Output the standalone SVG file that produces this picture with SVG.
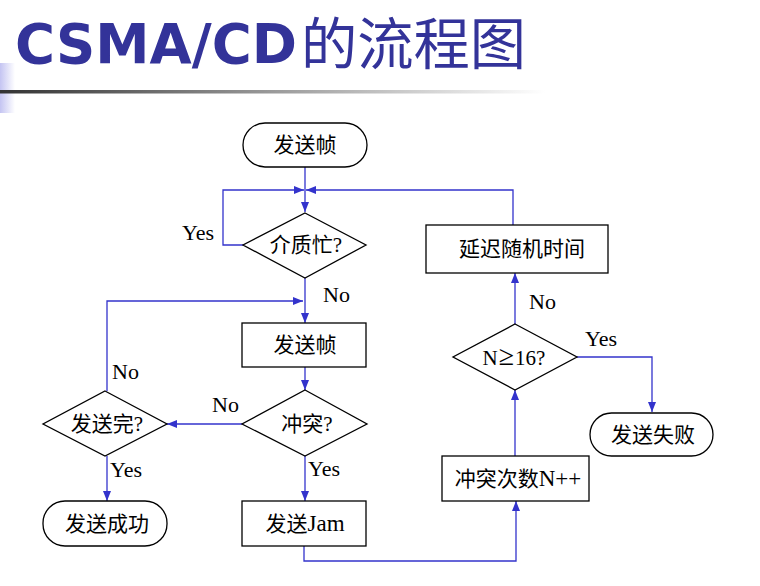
<svg xmlns="http://www.w3.org/2000/svg" width="760" height="586" viewBox="0 0 760 586">
<defs>
<linearGradient id="hl" x1="0" y1="0" x2="1" y2="0">
<stop offset="0" stop-color="#333333"/>
<stop offset="0.5" stop-color="#9a9a9a"/>
<stop offset="1" stop-color="#ffffff"/>
</linearGradient>
<linearGradient id="vb" x1="0" y1="0" x2="1" y2="0">
<stop offset="0" stop-color="#c4c4f2"/>
<stop offset="1" stop-color="#ffffff"/>
</linearGradient>
<marker id="ah" viewBox="0 0 10 8" markerWidth="10" markerHeight="8" markerUnits="userSpaceOnUse" refX="10" refY="4" orient="auto">
<path d="M0,0 L10,4 L0,8 z" fill="#3333cc"/>
</marker>
<style>
.n{fill:#fff;stroke:#000;stroke-width:1.3}
.t{font-family:"Liberation Serif","Noto Sans CJK SC",serif;font-size:21px;fill:#000;text-anchor:middle}
.l{font-family:"Liberation Serif","Noto Sans CJK SC",serif;font-size:22px;fill:#000}
.c{fill:none;stroke:#3333cc;stroke-width:1.3}
.big{font-size:23px}
</style>
</defs>
<rect width="760" height="586" fill="#fff"/>
<g id="title">
<rect x="0" y="63" width="15" height="50" fill="url(#vb)"/>
<rect x="0" y="90" width="545" height="3.5" fill="url(#hl)"/>
<text x="15" y="63" font-family="'DejaVu Sans',Verdana,sans-serif" font-weight="bold" font-size="56" fill="#333399" textLength="282" lengthAdjust="spacingAndGlyphs">CSMA/CD</text>
<text x="301" y="64" font-family="'Noto Sans CJK SC',sans-serif" font-size="56" fill="#333399" textLength="225" lengthAdjust="spacingAndGlyphs">的流程图</text>
</g>
<g id="connectors">
<path class="c" d="M305,167 V212" marker-end="url(#ah)"/>
<path class="c" d="M243,245 H223 V190 H304" marker-end="url(#ah)"/>
<path class="c" d="M513,225 V190 H306" marker-end="url(#ah)"/>
<path class="c" d="M305,278 V323" marker-end="url(#ah)"/>
<path class="c" d="M107,391 V301 H303" marker-end="url(#ah)"/>
<path class="c" d="M305,367 V390" marker-end="url(#ah)"/>
<path class="c" d="M242,424 H167" marker-end="url(#ah)"/>
<path class="c" d="M107,456 V501" marker-end="url(#ah)"/>
<path class="c" d="M305,456 V501" marker-end="url(#ah)"/>
<path class="c" d="M304,546 V561 H516 V501" marker-end="url(#ah)"/>
<path class="c" d="M515,456 V390" marker-end="url(#ah)"/>
<path class="c" d="M515,324 V273" marker-end="url(#ah)"/>
<path class="c" d="M577,357 H652 V412" marker-end="url(#ah)"/>
</g>
<g id="labels">
<text class="l" x="182" y="240">Yes</text>
<text class="l" x="323" y="302">No</text>
<text class="l" x="112" y="379">No</text>
<text class="l" x="212" y="412">No</text>
<text class="l" x="110" y="477">Yes</text>
<text class="l" x="308" y="476">Yes</text>
<text class="l" x="529" y="309">No</text>
<text class="l" x="585" y="346">Yes</text>
</g>
<g id="start">
<rect class="n" x="243" y="123" width="124" height="44" rx="22"/>
<text class="t" x="305" y="152">发送帧</text>
</g>
<g id="busy">
<polygon class="n" points="305,213 366,245 305,278 243,245"/>
<text class="t" x="306" y="252">介质忙?</text>
</g>
<g id="send">
<rect class="n" x="242" y="323" width="124" height="44"/>
<text class="t" x="305" y="352">发送帧</text>
</g>
<g id="collide">
<polygon class="n" points="305,390 367,424 305,456 242,424"/>
<text class="t" x="307" y="431">冲突?</text>
</g>
<g id="done">
<polygon class="n" points="105,391 167,424 105,456 43,424"/>
<text class="t" x="107" y="431">发送完?</text>
</g>
<g id="success">
<rect class="n" x="43" y="501" width="124" height="45" rx="22"/>
<text class="t" x="107" y="531">发送成功</text>
</g>
<g id="jam">
<rect class="n" x="242" y="501" width="124" height="45"/>
<text class="t" x="305" y="531">发送<tspan class="big">Jam</tspan></text>
</g>
<g id="count">
<rect class="n" x="442" y="456" width="147" height="45"/>
<text class="t" x="518" y="486">冲突次数<tspan class="big">N++</tspan></text>
</g>
<g id="check16">
<polygon class="n" points="515,324 577,357 515,390 453,357"/>
<text class="t" x="514" y="365" font-size="23">N<tspan dx="1" font-size="28">≥</tspan><tspan dx="1">16?</tspan></text>
</g>
<g id="delay">
<rect class="n" x="426" y="225" width="182" height="48"/>
<text class="t" x="522" y="256">延迟随机时间</text>
</g>
<g id="fail">
<rect class="n" x="590" y="413" width="123" height="43" rx="21.5"/>
<text class="t" x="653" y="442">发送失败</text>
</g>
</svg>
